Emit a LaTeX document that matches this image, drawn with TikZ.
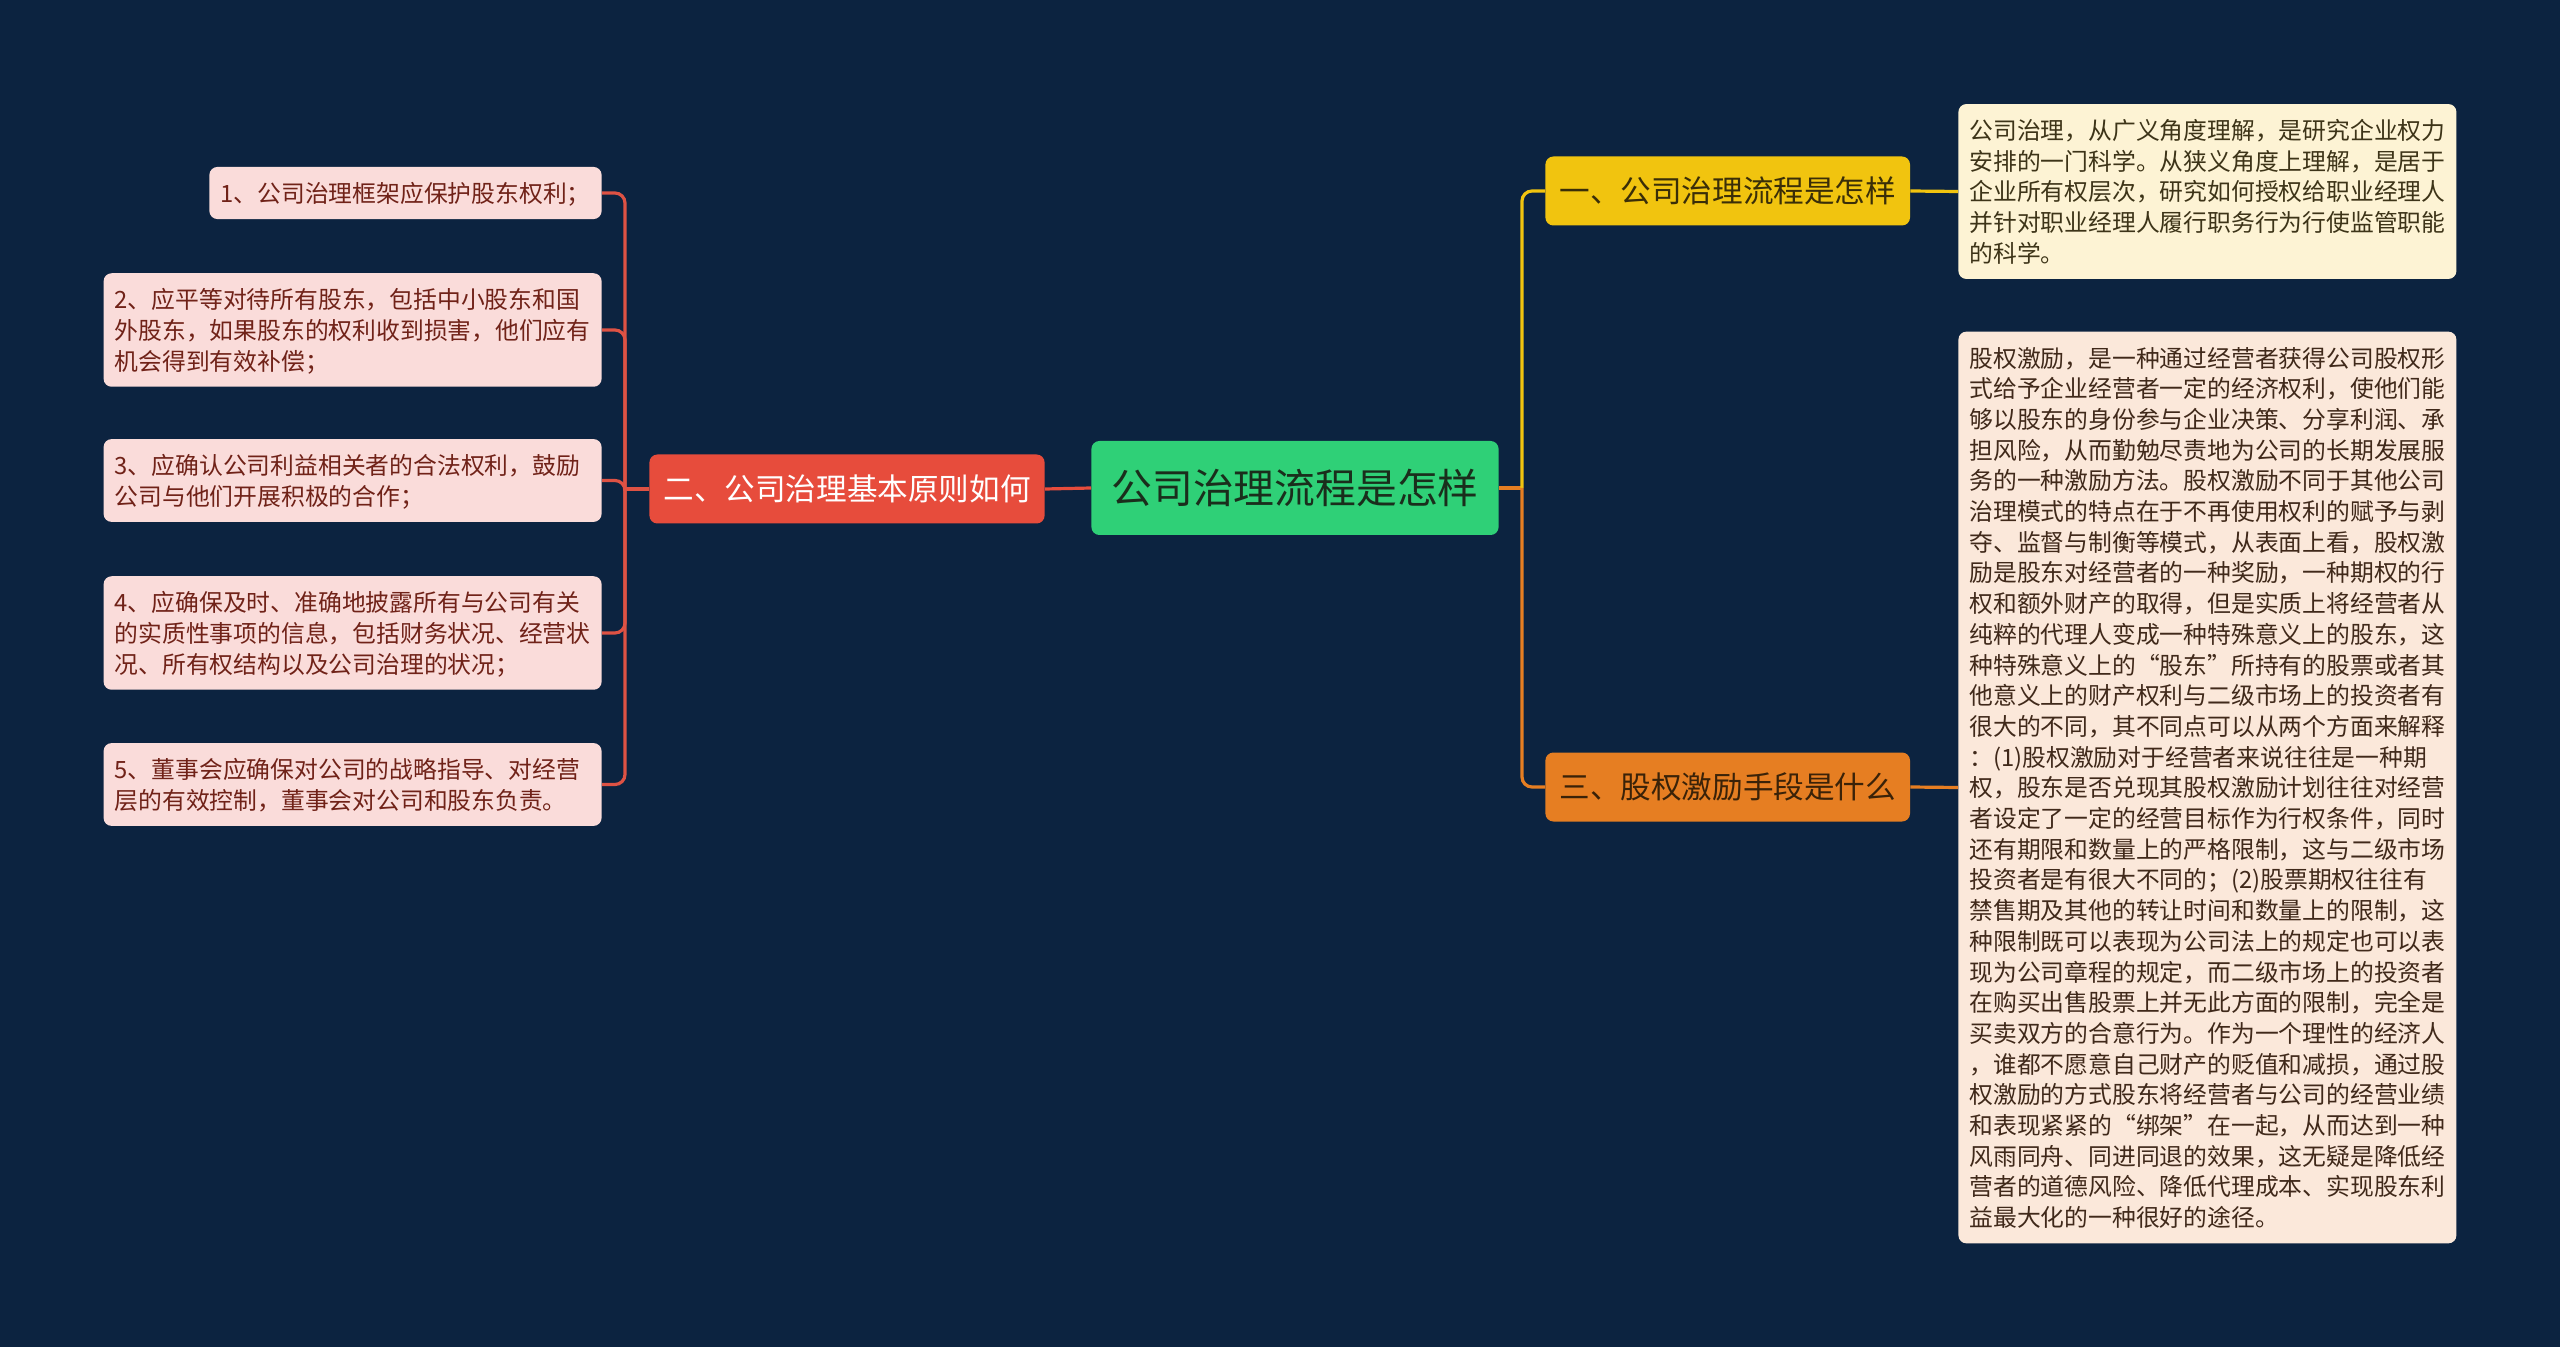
\documentclass[tikz,border=0pt]{standalone}
\usepackage{fontspec}
\setmainfont{Noto Sans CJK SC}
\definecolor{bg}{HTML}{0C2340}
\definecolor{rootgreen}{HTML}{2FD077}
\definecolor{roottext}{HTML}{1A2E1C}
\definecolor{redbranch}{HTML}{E74C3C}
\definecolor{redline}{HTML}{DE5244}
\definecolor{yellowbranch}{HTML}{F1C40F}
\definecolor{yellowtext}{HTML}{3A2E08}
\definecolor{orangebranch}{HTML}{E67E22}
\definecolor{orangetext}{HTML}{3A2208}
\definecolor{pinkleaf}{HTML}{FADCDA}
\definecolor{pinktext}{HTML}{702218}
\definecolor{creamleaf}{HTML}{FDF3D4}
\definecolor{creamtext}{HTML}{3D3418}
\definecolor{peachleaf}{HTML}{FBE8DA}
\definecolor{peachtext}{HTML}{40291A}
\newcommand\leaftop{\rule{0pt}{\dimexpr0.7\baselineskip+1.6pt\relax}}
\newcommand\leafbot{\rule[-\dimexpr0.3\baselineskip-1.6pt\relax]{0pt}{\dimexpr0.3\baselineskip-1.6pt\relax}}
\begin{document}
\begin{tikzpicture}[x=0.5pt,y=-0.5pt,font=\fontsize{11.9pt}{15.35pt}\selectfont,
    every node/.style={rounded corners=4pt,inner xsep=5.5pt,inner ysep=5.35pt},
    leaf/.style={align=left,execute at begin node=\leaftop,execute at end node=\leafbot},
    branch/.style={font=\fontsize{15.3pt}{18pt}\selectfont,inner xsep=7pt,minimum height=34.5pt},
    link/.style={line width=1.6pt,rounded corners=5pt}]
    \fill[bg] (0,0) rectangle (2560,1347);
    \node[fill=rootgreen,text=roottext,font=\fontsize{20.4pt}{24pt}\selectfont,inner xsep=10pt,minimum height=47pt] (root) at (1295,488) {公司治理流程是怎样};
    \node[branch,fill=redbranch,text=white,anchor=east] (b2) at (1045,489) {二、公司治理基本原则如何};
    \node[branch,fill=yellowbranch,text=yellowtext,anchor=west] (b1) at (1545,191) {一、公司治理流程是怎样};
    \node[branch,fill=orangebranch,text=orangetext,anchor=west] (b3) at (1545,787) {三、股权激励手段是什么};
    % left leaves
    \node[leaf,fill=pinkleaf,text=pinktext,anchor=east] (p1) at (602,193) {1、公司治理框架应保护股东权利；};
    \node[leaf,fill=pinkleaf,text=pinktext,text width=238pt,anchor=east] (p2) at (602,330) {2、应平等对待所有股东，包括中小股东和国\\
外股东，如果股东的权利收到损害，他们应有\\
机会得到有效补偿；};
    \node[leaf,fill=pinkleaf,text=pinktext,text width=238pt,anchor=east] (p3) at (602,480.5) {3、应确认公司利益相关者的合法权利，鼓励\\
公司与他们开展积极的合作；};
    \node[leaf,fill=pinkleaf,text=pinktext,text width=238pt,anchor=east] (p4) at (602,633) {4、应确保及时、准确地披露所有与公司有关\\
的实质性事项的信息，包括财务状况、经营状\\
况、所有权结构以及公司治理的状况；};
    \node[leaf,fill=pinkleaf,text=pinktext,text width=238pt,anchor=east] (p5) at (602,784.5) {5、董事会应确保对公司的战略指导、对经营\\
层的有效控制，董事会对公司和股东负责。};
    % right leaves
    \node[leaf,fill=creamleaf,text=creamtext,text width=238pt,anchor=west] (d1) at (1958,191.5) {公司治理，从广义角度理解，是研究企业权力\\
安排的一门科学。从狭义角度上理解，是居于\\
企业所有权层次，研究如何授权给职业经理人\\
并针对职业经理人履行职务行为行使监管职能\\
的科学。};
    \node[leaf,fill=peachleaf,text=peachtext,text width=238pt,anchor=west] (d3) at (1958,787.5) {股权激励，是一种通过经营者获得公司股权形\\
式给予企业经营者一定的经济权利，使他们能\\
够以股东的身份参与企业决策、分享利润、承\\
担风险，从而勤勉尽责地为公司的长期发展服\\
务的一种激励方法。股权激励不同于其他公司\\
治理模式的特点在于不再使用权利的赋予与剥\\
夺、监督与制衡等模式，从表面上看，股权激\\
励是股东对经营者的一种奖励，一种期权的行\\
权和额外财产的取得，但是实质上将经营者从\\
纯粹的代理人变成一种特殊意义上的股东，这\\
种特殊意义上的“股东”所持有的股票或者其\\
他意义上的财产权利与二级市场上的投资者有\\
很大的不同，其不同点可以从两个方面来解释\\
：(1)股权激励对于经营者来说往往是一种期\\
权，股东是否兑现其股权激励计划往往对经营\\
者设定了一定的经营目标作为行权条件，同时\\
还有期限和数量上的严格限制，这与二级市场\\
投资者是有很大不同的；(2)股票期权往往有\\
禁售期及其他的转让时间和数量上的限制，这\\
种限制既可以表现为公司法上的规定也可以表\\
现为公司章程的规定，而二级市场上的投资者\\
在购买出售股票上并无此方面的限制，完全是\\
买卖双方的合意行为。作为一个理性的经济人\\
，谁都不愿意自己财产的贬值和减损，通过股\\
权激励的方式股东将经营者与公司的经营业绩\\
和表现紧紧的“绑架”在一起，从而达到一种\\
风雨同舟、同进同退的效果，这无疑是降低经\\
营者的道德风险、降低代理成本、实现股东利\\
益最大化的一种很好的途径。};
    \coordinate (lt) at (625,489);
    \coordinate (rt) at (1522,488);
    \draw[link,draw=redbranch] (root.west) -- (b2.east);
    \draw[link,draw=redline] (b2.west) -- (lt);
    \foreach \i in {1,...,5}
        \draw[link,draw=redline] (p\i.east) -| (lt);
    \draw[link,draw=orangebranch] (root.east) -- (rt);
    \draw[link,draw=yellowbranch] (b1.west) -| (rt);
    \draw[link,draw=orangebranch] (b3.west) -| (rt);
    \draw[link,draw=yellowbranch] (b1.east) -- (d1.west);
    \draw[link,draw=orangebranch] (b3.east) -- (d3.west);
\end{tikzpicture}
\end{document}
